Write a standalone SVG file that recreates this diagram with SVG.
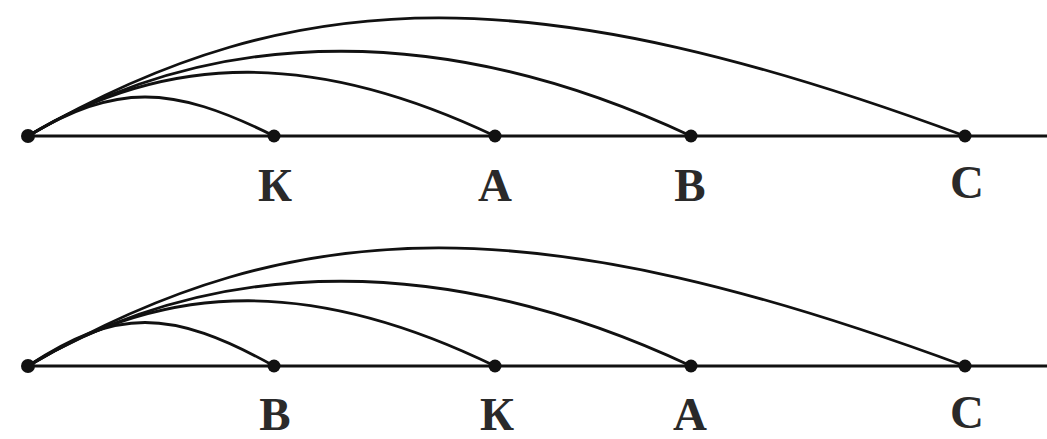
<svg xmlns="http://www.w3.org/2000/svg" width="1047" height="439" viewBox="0 0 1047 439">
<style>
.axis{stroke:#111;stroke-width:3;fill:none}
.arc{stroke:#111;stroke-width:2.8;fill:none;stroke-linecap:round}
.dot{fill:#111}
.lbl{font-family:"Liberation Serif","DejaVu Serif",serif;font-size:47px;font-weight:bold;fill:#2a2a2a;text-anchor:middle}
</style>
<rect width="1047" height="439" fill="#fff"/>
<g id="connectors">
<line class="axis" x1="28" y1="136" x2="1047" y2="136"/>
<path class="arc" d="M28 136 C116 84 170 84 274 136"/>
<path class="arc" d="M28 136 C170 50 318 52 495 136"/>
<path class="arc" d="M28 136 C220 22 452 24 691 136"/>
<path class="arc" d="M28 136 C300 -22 540 -21 965 136"/>
<line class="axis" x1="28" y1="366" x2="1047" y2="366"/>
<path class="arc" d="M28 366 C116 308 170 308 274 366"/>
<path class="arc" d="M28 366 C170 278 318 280 495 366"/>
<path class="arc" d="M28 366 C220 252 452 254 691 366"/>
<path class="arc" d="M28 366 C300 208 540 209 965 366"/>
</g>
<g id="top-O"><circle class="dot" cx="28" cy="136" r="7"/></g>
<g id="top-K"><circle class="dot" cx="274" cy="136" r="6.5"/><text class="lbl" x="275" y="201">К</text></g>
<g id="top-A"><circle class="dot" cx="495" cy="136" r="6.5"/><text class="lbl" x="495" y="201">А</text></g>
<g id="top-B"><circle class="dot" cx="691" cy="136" r="6.5"/><text class="lbl" x="690" y="201">В</text></g>
<g id="top-C"><circle class="dot" cx="965" cy="136" r="6.5"/><text class="lbl" x="967" y="198">С</text></g>
<g id="bot-O"><circle class="dot" cx="28" cy="366" r="7"/></g>
<g id="bot-B"><circle class="dot" cx="274" cy="366" r="6.5"/><text class="lbl" x="275" y="430">В</text></g>
<g id="bot-K"><circle class="dot" cx="495" cy="366" r="6.5"/><text class="lbl" x="497" y="430">К</text></g>
<g id="bot-A"><circle class="dot" cx="691" cy="366" r="6.5"/><text class="lbl" x="690" y="430">А</text></g>
<g id="bot-C"><circle class="dot" cx="965" cy="366" r="6.5"/><text class="lbl" x="967" y="428">С</text></g>
</svg>
